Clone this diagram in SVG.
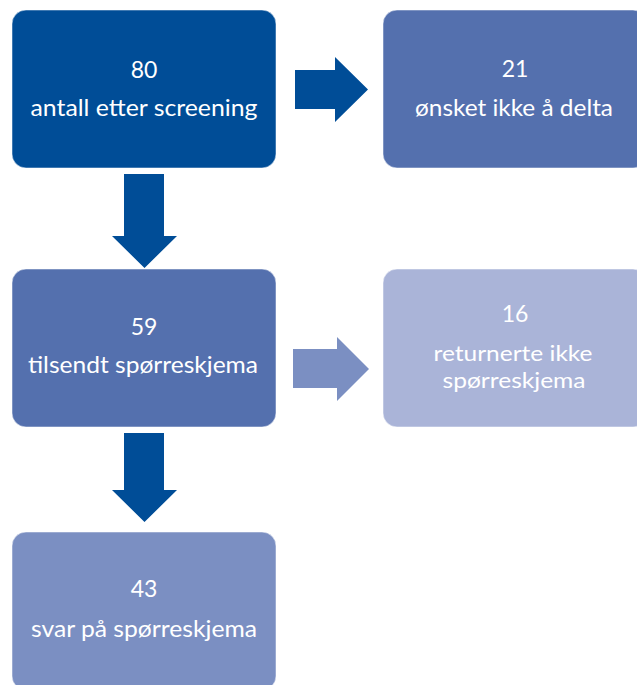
<svg xmlns="http://www.w3.org/2000/svg" width="637" height="685" viewBox="0 0 637 685">
<style>
.box{stroke:#ffffff;stroke-opacity:0.5;stroke-width:1}
.t{font-family:Lato,"Open Sans","Liberation Sans",sans-serif;font-size:23px;fill:#ffffff;text-anchor:middle}
.dark{fill:#004D97}
.mid{fill:#5470AE}
.soft{fill:#7B8FC2}
.pale{fill:#AAB4D8}
</style>
<rect width="637" height="685" fill="#ffffff"/>
<g id="connectors">
<path class="dark" d="M295 70 H335 V57 L368 89.5 L335 122 V109 H295 Z"/>
<path class="dark" d="M124 174 H164 V236 H177 L144.5 268 L112 236 H124 Z"/>
<path class="soft" d="M293 349 H337 V337 L369 369 L337 401 V388 H293 Z"/>
<path class="dark" d="M124 433 H164 V490 H177 L144.5 522 L112 490 H124 Z"/>
</g>
<g id="node-80">
<rect class="box dark" x="12" y="10" width="264" height="158" rx="14"/>
<text class="t" x="144" y="78">80</text>
<text class="t" x="144" y="116" textLength="227" lengthAdjust="spacingAndGlyphs">antall etter screening</text>
</g>
<g id="node-21">
<rect class="box mid" x="383" y="10" width="264" height="158" rx="14"/>
<text class="t" x="515" y="77">21</text>
<text class="t" x="514" y="116" textLength="198" lengthAdjust="spacingAndGlyphs">ønsket ikke å delta</text>
</g>
<g id="node-59">
<rect class="box mid" x="12" y="269" width="264" height="158" rx="14"/>
<text class="t" x="144" y="335">59</text>
<text class="t" x="143" y="373" textLength="230" lengthAdjust="spacingAndGlyphs">tilsendt spørreskjema</text>
</g>
<g id="node-16">
<rect class="box pale" x="383" y="269" width="264" height="158" rx="14"/>
<text class="t" x="515" y="322">16</text>
<text class="t" x="513" y="361" style="font-size:22px" textLength="159" lengthAdjust="spacingAndGlyphs">returnerte ikke</text>
<text class="t" x="514" y="388" style="font-size:22px" textLength="143" lengthAdjust="spacingAndGlyphs">spørreskjema</text>
</g>
<g id="node-43">
<rect class="box soft" x="12" y="532" width="264" height="158" rx="14"/>
<text class="t" x="144" y="597">43</text>
<text class="t" x="144" y="637" textLength="226" lengthAdjust="spacingAndGlyphs">svar på spørreskjema</text>
</g>
</svg>
